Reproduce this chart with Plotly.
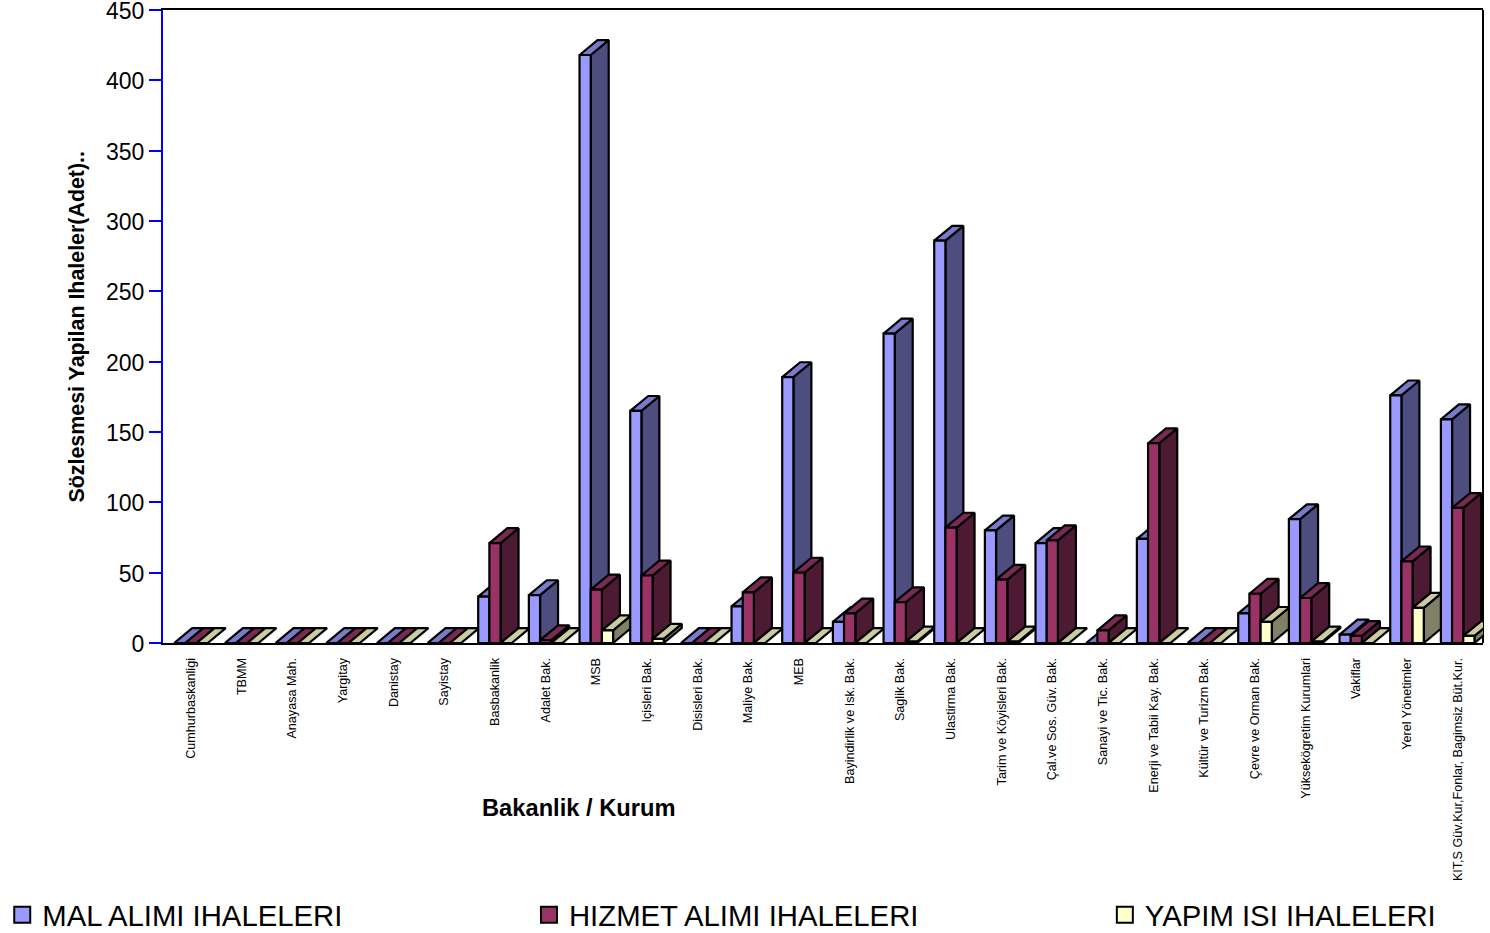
import plotly.graph_objects as go

categories = ["Cumhurbaskanligi", "TBMM", "Anayasa Mah.", "Yargitay", "Danistay", "Sayistay",
              "Basbakanlik", "Adalet Bak.", "MSB", "Içisleri Bak.", "Disisleri Bak.", "Maliye Bak.",
              "MEB", "Bayindirlik ve Isk. Bak.", "Saglik Bak.", "Ulastirma Bak.",
              "Tarim ve Köyisleri Bak.", "Çal.ve Sos. Güv. Bak.", "Sanayi ve Tic. Bak.",
              "Enerji ve Tabii Kay. Bak.", "Kültür ve Turizm Bak.", "Çevre ve Orman Bak.",
              "Yüksekögretim Kurumlari", "Vakiflar", "Yerel Yönetimler",
              "KIT,S Güv.Kur,Fonlar, Bagimsiz Büt.Kur."]
mal_alimi = [0, 0, 0, 0, 0, 0, 33, 34, 418, 165, 0, 26, 189, 15, 220, 286, 80, 71, 0, 74, 0, 21, 88, 6, 176, 159]
hizmet_alimi = [0, 0, 0, 0, 0, 0, 71, 2, 38, 48, 0, 36, 50, 21, 29, 82, 45, 73, 9, 142, 0, 35, 32, 5, 58, 96]
yapim_isi = [0, 0, 0, 0, 0, 0, 0, 0, 9, 3, 0, 0, 0, 0, 1, 0, 1, 0, 0, 0, 0, 15, 1, 0, 25, 5]
series_names = ["MAL ALIMI IHALELERI", "HIZMET ALIMI IHALELERI", "YAPIM ISI IHALELERI"]
y_ticks = [0, 50, 100, 150, 200, 250, 300, 350, 400, 450]

front_colors = ["#9999FF", "#993366", "#FFFFCC"]
top_colors = ["#7A7ACC", "#7A2952", "#CCCCA3"]
side_colors = ["#4D4D80", "#4D1A33", "#808066"]

BAR_W = 0.2208
DX = 0.355
DY = 10.6
LINE = dict(color="black", width=2.2)

fig = go.Figure()


def face(xs, ys, color):
    fig.add_trace(go.Scatter(x=xs + xs[:1], y=ys + ys[:1], mode="lines", fill="toself",
                             fillcolor=color, line=LINE, hoverinfo="skip",
                             showlegend=False, cliponaxis=False))


all_series = [mal_alimi, hizmet_alimi, yapim_isi]
for i in range(len(categories)):
    for s, values in enumerate(all_series):
        v = values[i]
        x0 = i + (s - 1.5) * BAR_W
        x1 = x0 + BAR_W
        if v > 0:
            face([x1, x1 + DX, x1 + DX, x1], [0, DY, v + DY, v], side_colors[s])
        face([x0, x1, x1 + DX, x0 + DX], [v, v, v + DY, v + DY], top_colors[s])
        if v > 0:
            face([x0, x1, x1, x0], [0, 0, v, v], front_colors[s])

legend_names = ["legend", "legend2", "legend3"]
for s, name in enumerate(series_names):
    fig.add_trace(go.Scatter(x=[None], y=[None], mode="markers", name=name,
                             marker=dict(symbol="square", size=16, color=front_colors[s],
                                         line=dict(color="black", width=2)),
                             legend=legend_names[s], showlegend=True))


def legend_at(x):
    return dict(x=x, y=0.019, xref="container", yref="container", xanchor="left", yanchor="middle",
                bgcolor="rgba(0,0,0,0)", borderwidth=0,
                font=dict(size=29.3, color="black", family="Liberation Sans"),
                itemclick=False, itemdoubleclick=False)


fig.update_layout(
    width=1490, height=933,
    margin=dict(l=163, r=7, t=10, b=290, autoexpand=False),
    paper_bgcolor="white", plot_bgcolor="white",
    font=dict(family="Liberation Sans", color="black"),
    showlegend=True,
    legend=legend_at(0.0015), legend2=legend_at(0.355), legend3=legend_at(0.7415),
    xaxis=dict(range=[-0.552, 25.5], tickmode="array", tickvals=list(range(len(categories))),
               ticktext=categories, tickangle=-90, tickfont=dict(size=12.6), ticks="",
               ticklabelstandoff=8, showgrid=False, zeroline=False, showline=True,
               linecolor="black", linewidth=2, mirror=True, layer="above traces"),
    yaxis=dict(range=[0, 450], tickmode="array", tickvals=y_ticks, ticks="outside", ticklen=12,
               tickwidth=2, tickcolor="#0000FF", tickfont=dict(size=23), showgrid=False,
               ticklabeloverflow="allow", ticklabelshift=1,
               zeroline=False, showline=True, linecolor="#0000FF", linewidth=2),
    shapes=[dict(type="line", xref="paper", yref="paper", x0=1, x1=1, y0=0, y1=1,
                 line=dict(color="black", width=2), layer="below")],
    annotations=[
        dict(text="<b>Bakanlik / Kurum</b>", xref="paper", yref="paper", x=0.315, y=-0.2607,
             xanchor="center", yanchor="middle", showarrow=False, font=dict(size=23.7)),
        dict(text="<b>Sözlesmesi Yapilan Ihaleler(Adet)..</b>", xref="paper", yref="paper",
             x=-0.0659, y=0.5, xanchor="center", yanchor="middle", textangle=-90,
             showarrow=False, font=dict(size=21.4)),
    ],
)
fig.write_html("out.html", config=dict(displayModeBar=False),
               post_script="document.body.style.margin='0';document.documentElement.style.overflow='hidden';")
